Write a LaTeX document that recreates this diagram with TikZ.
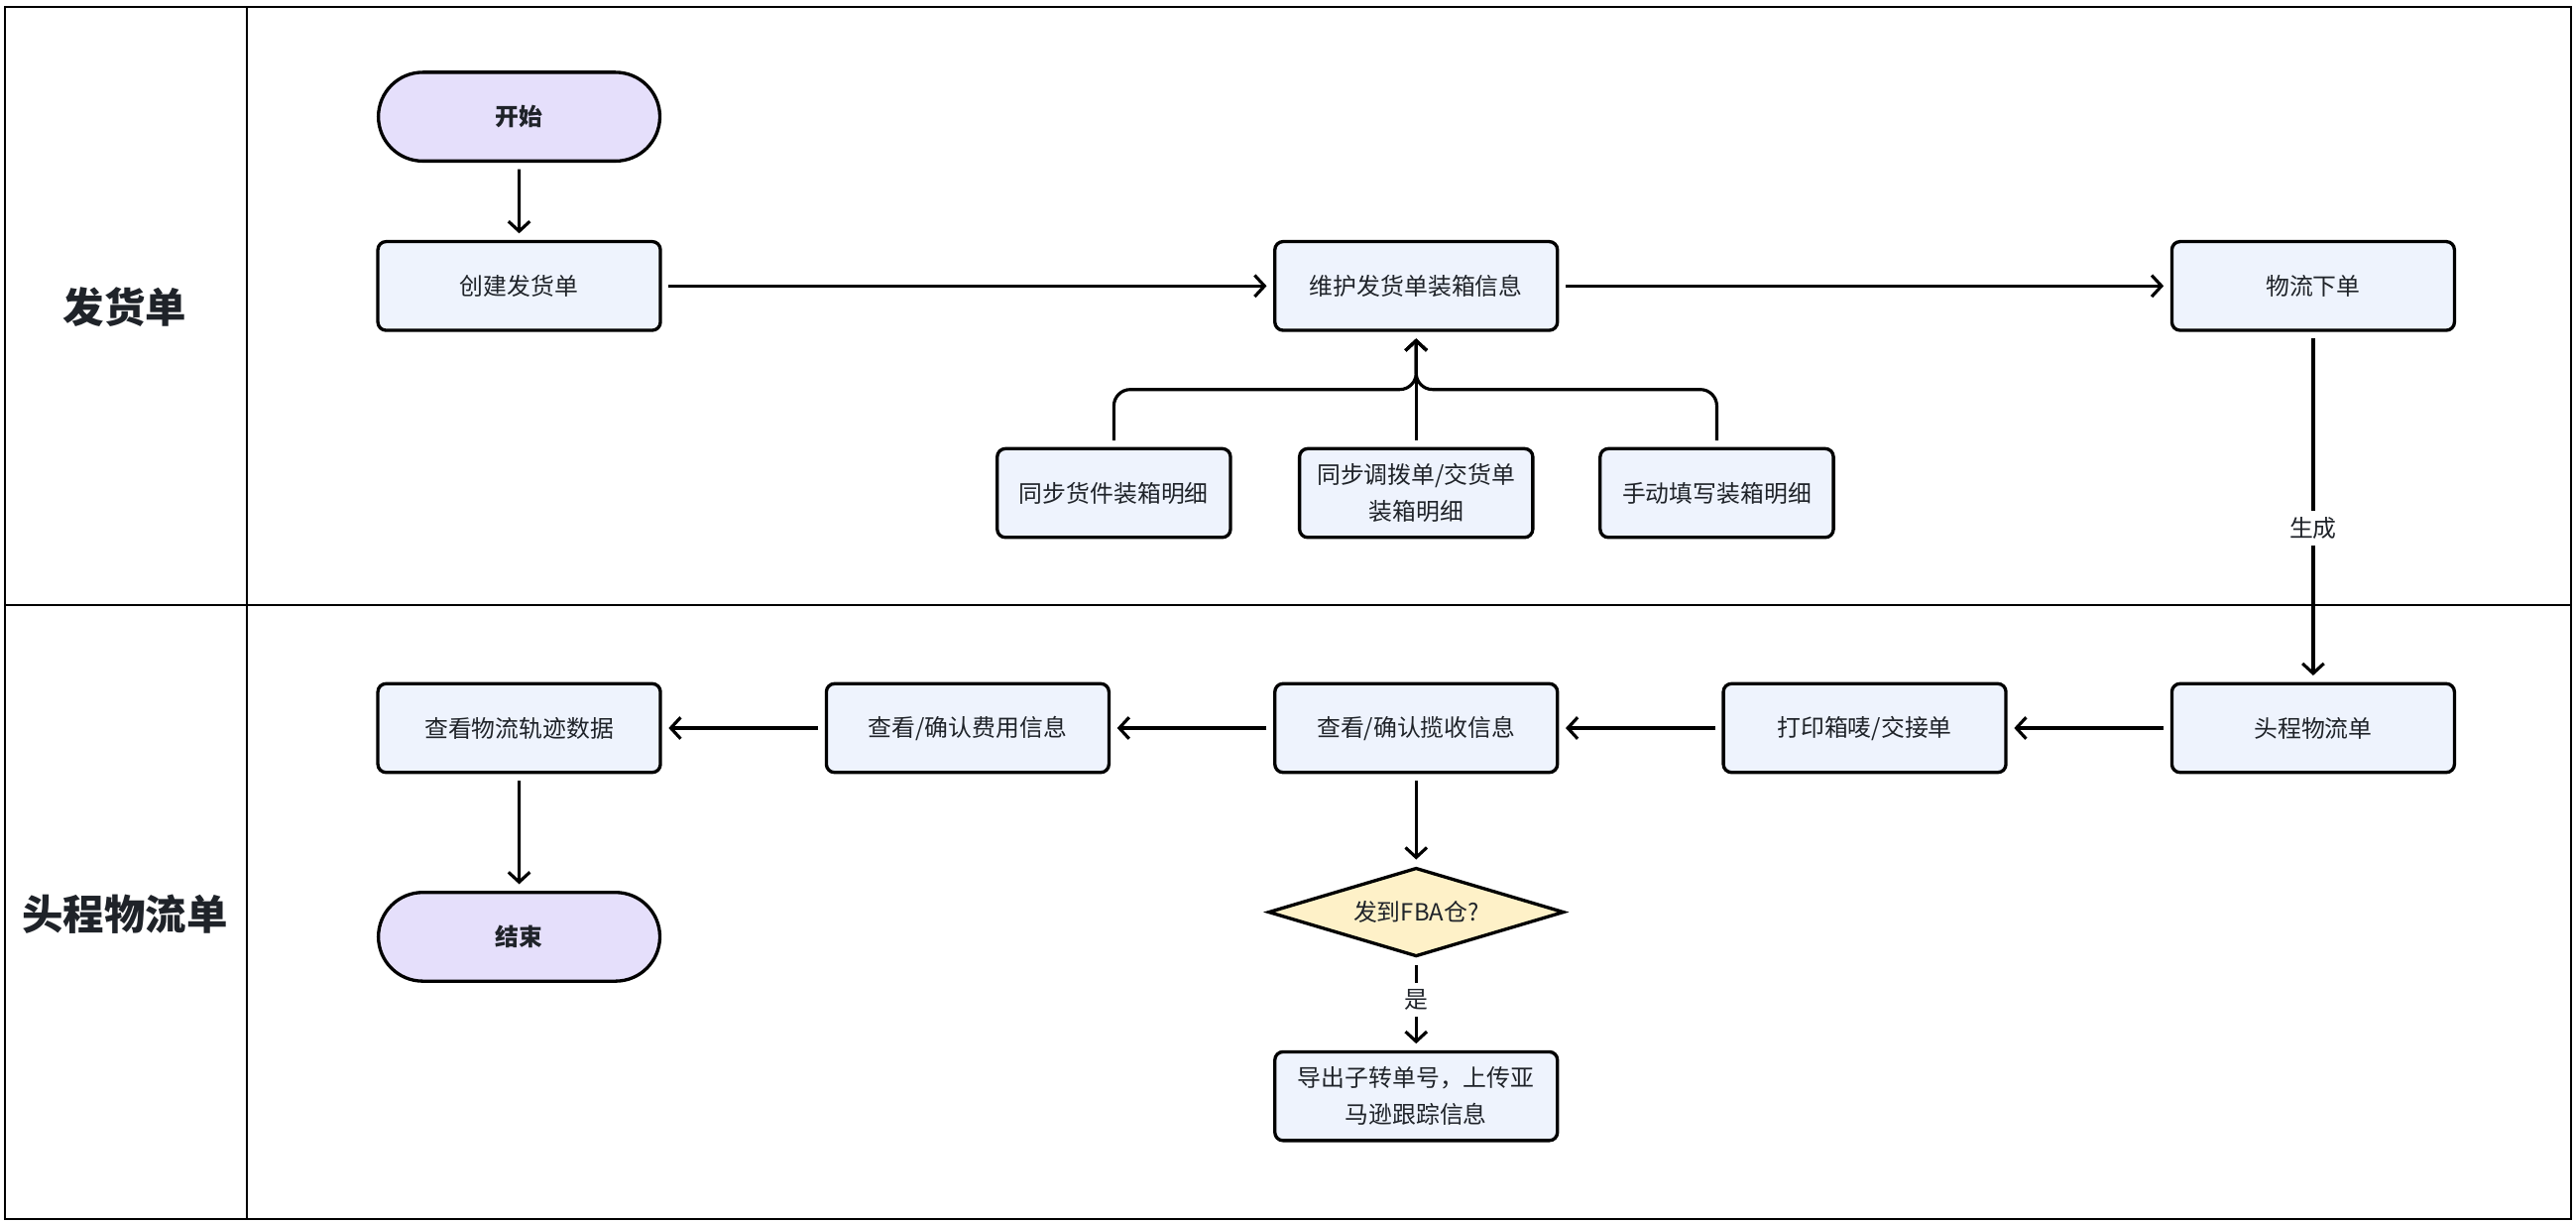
\documentclass[tikz,border=0pt]{standalone}
\usepackage{fontspec}
\setmainfont{Noto Sans CJK SC}
\usetikzlibrary{arrows.meta,shapes.geometric,shapes.misc}

\definecolor{boxblue}{HTML}{EEF3FD}
\definecolor{startpurple}{HTML}{E5DFFB}
\definecolor{askyellow}{HTML}{FEF1C8}
\definecolor{inkgray}{HTML}{1F2329}

\begin{document}
\begin{tikzpicture}[x=1pt,y=-1pt,
    font=\fontsize{14.4}{22}\selectfont, text=inkgray,
    lane/.style={font=\fontsize{25}{30}\selectfont\bfseries},
    task/.style={draw=black,line width=2pt,fill=boxblue,rounded corners=5pt,
        minimum width=172pt,minimum height=54pt,inner sep=0pt,align=center},
    subtask/.style={task,minimum width=142pt},
    terminal/.style={rounded rectangle,draw=black,line width=2pt,fill=startpurple,
        minimum width=178pt,minimum height=54pt,font=\fontsize{14.4}{22}\selectfont\bfseries},
    ask/.style={diamond,aspect=3.33,draw=black,line width=2pt,fill=askyellow,
        inner sep=0pt,minimum width=180pt,minimum height=54pt},
    flow/.style={-{Straight Barb[length=6pt,width=13pt]},line width=1.9pt,
        shorten >=4pt,shorten <=4pt},
    note/.style={fill=white,inner sep=4pt}]

        \useasboundingbox (0,0) rectangle (1568,744);

        % Swimlanes
        \draw[line width=1.2pt] (3,4) rectangle (1565,742);
        \draw[line width=1.2pt] (150,4) -- (150,742) (3,368) -- (1565,368);
        \node[lane] (ShipLane) at (76,187) {发货单};
        \node[lane] (HeadLane) at (76,556) {头程物流单};

        % Shipment lane
        \node[terminal] (Start) at (316,71) {开始};
        \draw (316,174) node[task] (CreateShipment) {创建发货单}
        ++(546,0) node[task] (MaintainPacking) {维护发货单装箱信息}
        ++(546,0) node[task] (PlaceOrder) {物流下单};

        \node[subtask] (SyncShipment) at (678,300) {同步货件装箱明细};
        \node[subtask] (SyncTransfer) at (862,300) {同步调拨单/交货单\\装箱明细};
        \node[subtask] (ManualFill) at (1045,300) {手动填写装箱明细};
        \coordinate (Merge) at (862,237);

        % Head logistics lane, right to left
        \draw (1408,443) node[task] (HeadLogistics) {头程物流单}
        ++(-273,0) node[task] (PrintLabel) {打印箱唛/交接单}
        ++(-273,0) node[task] (ConfirmPickup) {查看/确认揽收信息}
        ++(-273,0) node[task] (ConfirmFee) {查看/确认费用信息}
        ++(-273,0) node[task] (TrackData) {查看物流轨迹数据};

        \node[terminal] (End) at (316,570) {结束};
        \node[ask] (ToFBA) at (862,555) {发到FBA仓?};
        \node[task] (ExportNo) at (862,667) {导出子转单号，上传亚\\马逊跟踪信息};

        % Connectors
        \draw[flow] (Start) -- (CreateShipment);
        \draw[flow] (CreateShipment) -- (MaintainPacking);
        \draw[flow] (MaintainPacking) -- (PlaceOrder);

        \draw[flow] (SyncTransfer) -- (MaintainPacking);
        \foreach \x in {SyncShipment,ManualFill}
        {
            \draw[flow,rounded corners=10pt] (\x.north) |- (Merge) -- (MaintainPacking.south);
        }

        \draw[flow] (PlaceOrder) -- node[note,pos=0.56] {生成} (HeadLogistics);

        \foreach \x[remember=\x as \lastx (initially HeadLogistics)] in {PrintLabel,ConfirmPickup,ConfirmFee,TrackData}
        {
            \draw[flow] (\lastx) -- (\x);
        }

        \draw[flow] (ConfirmPickup) -- (ToFBA);
        \draw[flow] (ToFBA) -- node[note,pos=0.45] {是} (ExportNo);
        \draw[flow] (TrackData) -- (End);
    \end{tikzpicture}
\end{document}
